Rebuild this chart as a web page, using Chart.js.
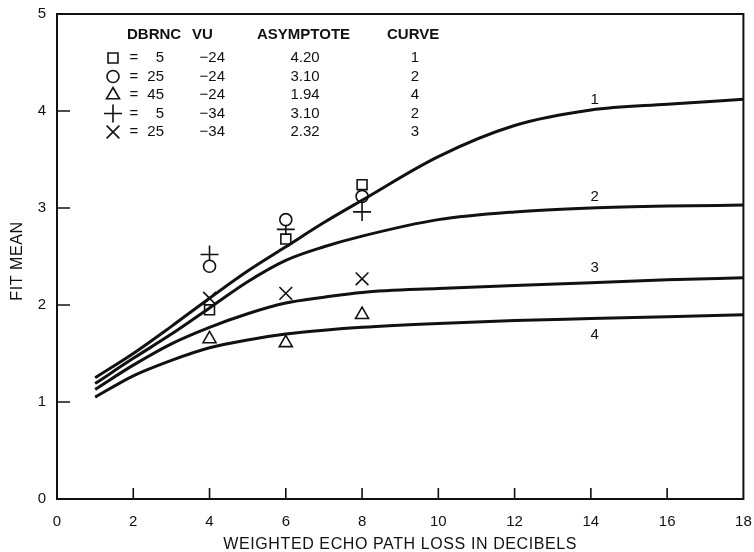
<!DOCTYPE html>
<html>
<head>
<meta charset="utf-8">
<script src="https://cdn.jsdelivr.net/npm/chart.js@4.4.0/dist/chart.umd.min.js"></script>
<style>
  html, body { margin: 0; padding: 0; background: #fff; }
  #wrap { width: 754px; height: 552px; }
</style>
</head>
<body>
<div id="wrap"><canvas id="chart"></canvas></div>
<script>
// fitted curves
const curveX = [1, 2, 3, 4, 5, 6, 7, 8, 10, 12, 14, 16, 18];
const curve1 = [1.25, 1.50, 1.78, 2.07, 2.35, 2.60, 2.85, 3.08, 3.53, 3.85, 4.01, 4.07, 4.12];
const curve2 = [1.19, 1.45, 1.70, 1.97, 2.24, 2.46, 2.60, 2.71, 2.88, 2.96, 3.00, 3.02, 3.03];
const curve3 = [1.13, 1.38, 1.60, 1.77, 1.91, 2.02, 2.08, 2.13, 2.17, 2.20, 2.23, 2.26, 2.28];
const curve4 = [1.05, 1.27, 1.43, 1.56, 1.64, 1.70, 1.74, 1.77, 1.81, 1.84, 1.86, 1.88, 1.90];

// measured points
const pointX = [4, 6, 8];
const squareY = [1.95, 2.68, 3.24];
const circleY = [2.40, 2.88, 3.12];
const triangleY = [1.65, 1.61, 1.90];
const plusY = [2.52, 2.78, 2.96];
const crossY = [2.07, 2.12, 2.27];

// legend table
const legendStyles = ['rect', 'circle', 'triangle', 'cross', 'crossRot'];
const legendDbrnc = ['5', '25', '45', '5', '25'];
const legendVu = ['\u221224', '\u221224', '\u221224', '\u221234', '\u221234'];
const legendAsymptote = ['4.20', '3.10', '1.94', '3.10', '2.32'];
const legendCurve = ['1', '2', '4', '2', '3'];

// curve numbers written on the plot
const curveLabels = ['1', '2', '3', '4'];
const curveLabelX = [14.1, 14.1, 14.1, 14.1];
const curveLabelY = [4.11, 3.11, 2.38, 1.69];

const xTitle = 'WEIGHTED ECHO PATH LOSS IN DECIBELS';
const yTitle = 'FIT MEAN';

const FONT = "'Liberation Sans', Arial, sans-serif";
const INK = '#111';

function pts(xs, ys) {
  return xs.map((x, i) => ({ x: x, y: ys[i] }));
}

function curveSet(ys) {
  return {
    type: 'line',
    data: pts(curveX, ys),
    borderColor: INK,
    borderWidth: 3,
    pointRadius: 0,
    cubicInterpolationMode: 'monotone',
    fill: false
  };
}

function markerSet(ys, style, r) {
  return {
    type: 'scatter',
    data: pts(pointX, ys),
    pointStyle: style,
    pointRadius: r,
    pointBorderColor: INK,
    pointBackgroundColor: '#fff',
    pointBorderWidth: 1.6,
    showLine: false
  };
}

const markerRadius = { rect: 7, circle: 6, triangle: 7.5, cross: 9, crossRot: 9 };

// frame, inward ticks, legend table, curve numbers, axis titles
const decorations = {
  id: 'decorations',
  afterDraw(chart) {
    const ctx = chart.ctx;
    const a = chart.chartArea;
    const xs = chart.scales.x, ys = chart.scales.y;
    ctx.save();
    ctx.strokeStyle = INK;
    ctx.lineWidth = 2;
    ctx.strokeRect(a.left, a.top, a.right - a.left, a.bottom - a.top);

    ctx.lineWidth = 1.6;
    ctx.beginPath();
    xs.ticks.forEach(t => {
      if (t.value <= xs.min || t.value >= xs.max) return;
      const px = xs.getPixelForValue(t.value);
      ctx.moveTo(px, a.bottom);
      ctx.lineTo(px, a.bottom - 11);
    });
    ys.ticks.forEach(t => {
      if (t.value <= ys.min || t.value >= ys.max) return;
      const py = ys.getPixelForValue(t.value);
      ctx.moveTo(a.left, py);
      ctx.lineTo(a.left + 13, py);
    });
    ctx.stroke();

    // legend table
    ctx.fillStyle = INK;
    ctx.textBaseline = 'middle';
    ctx.font = 'bold 15px ' + FONT;
    ctx.textAlign = 'left';
    ctx.fillText('DBRNC', 127, 35);
    ctx.fillText('VU', 192, 35);
    ctx.fillText('ASYMPTOTE', 257, 35);
    ctx.fillText('CURVE', 387, 35);

    ctx.font = '15px ' + FONT;
    legendStyles.forEach((style, i) => {
      const y = 58 + i * 18.5;
      ctx.fillStyle = '#fff';
      ctx.strokeStyle = INK;
      ctx.lineWidth = 1.6;
      Chart.helpers.drawPoint(ctx, { pointStyle: style, radius: markerRadius[style], borderWidth: 1.6, rotation: 0 }, 113, y);
      ctx.fillStyle = INK;
      ctx.textAlign = 'center';
      ctx.fillText('=', 134, y);
      ctx.textAlign = 'right';
      ctx.fillText(legendDbrnc[i], 164, y);
      ctx.fillText(legendVu[i], 225, y);
      ctx.textAlign = 'center';
      ctx.fillText(legendAsymptote[i], 305, y);
      ctx.fillText(legendCurve[i], 415, y);
    });

    // curve numbers
    ctx.textAlign = 'center';
    curveLabels.forEach((lab, i) => {
      ctx.fillText(lab, xs.getPixelForValue(curveLabelX[i]), ys.getPixelForValue(curveLabelY[i]));
    });

    // axis titles, letter-spaced like the original
    ctx.font = '16px ' + FONT;
    ctx.letterSpacing = '0.6px';
    ctx.fillText(xTitle, (a.left + a.right) / 2, 545);
    ctx.translate(18, 261);
    ctx.rotate(-Math.PI / 2);
    ctx.fillText(yTitle, 0, 0);
    ctx.restore();
  }
};

new Chart(document.getElementById('chart'), {
  data: {
    datasets: [
      curveSet(curve1),
      curveSet(curve2),
      curveSet(curve3),
      curveSet(curve4),
      markerSet(squareY, 'rect', markerRadius.rect),
      markerSet(circleY, 'circle', markerRadius.circle),
      markerSet(triangleY, 'triangle', markerRadius.triangle),
      markerSet(plusY, 'cross', markerRadius.cross),
      markerSet(crossY, 'crossRot', markerRadius.crossRot)
    ]
  },
  options: {
    responsive: true,
    maintainAspectRatio: false,
    animation: false,
    layout: { padding: { top: 14, right: 8, left: 0, bottom: 0 } },
    plugins: {
      legend: { display: false },
      tooltip: { enabled: false }
    },
    scales: {
      x: {
        type: 'linear',
        min: 0,
        max: 18,
        grid: { display: false },
        border: { display: false },
        ticks: { stepSize: 2, padding: 6, color: INK, font: { family: FONT, size: 15 }, maxRotation: 0 },
        afterFit(s) { s.height = 53; s.paddingLeft = 0; s.paddingRight = 0; }
      },
      y: {
        type: 'linear',
        min: 0,
        max: 5,
        grid: { display: false },
        border: { display: false },
        ticks: { stepSize: 1, padding: 3, color: INK, font: { family: FONT, size: 15 } },
        afterFit(s) { s.width = 57; s.paddingTop = 0; s.paddingBottom = 0; }
      }
    }
  },
  plugins: [decorations]
});
</script>
</body>
</html>
